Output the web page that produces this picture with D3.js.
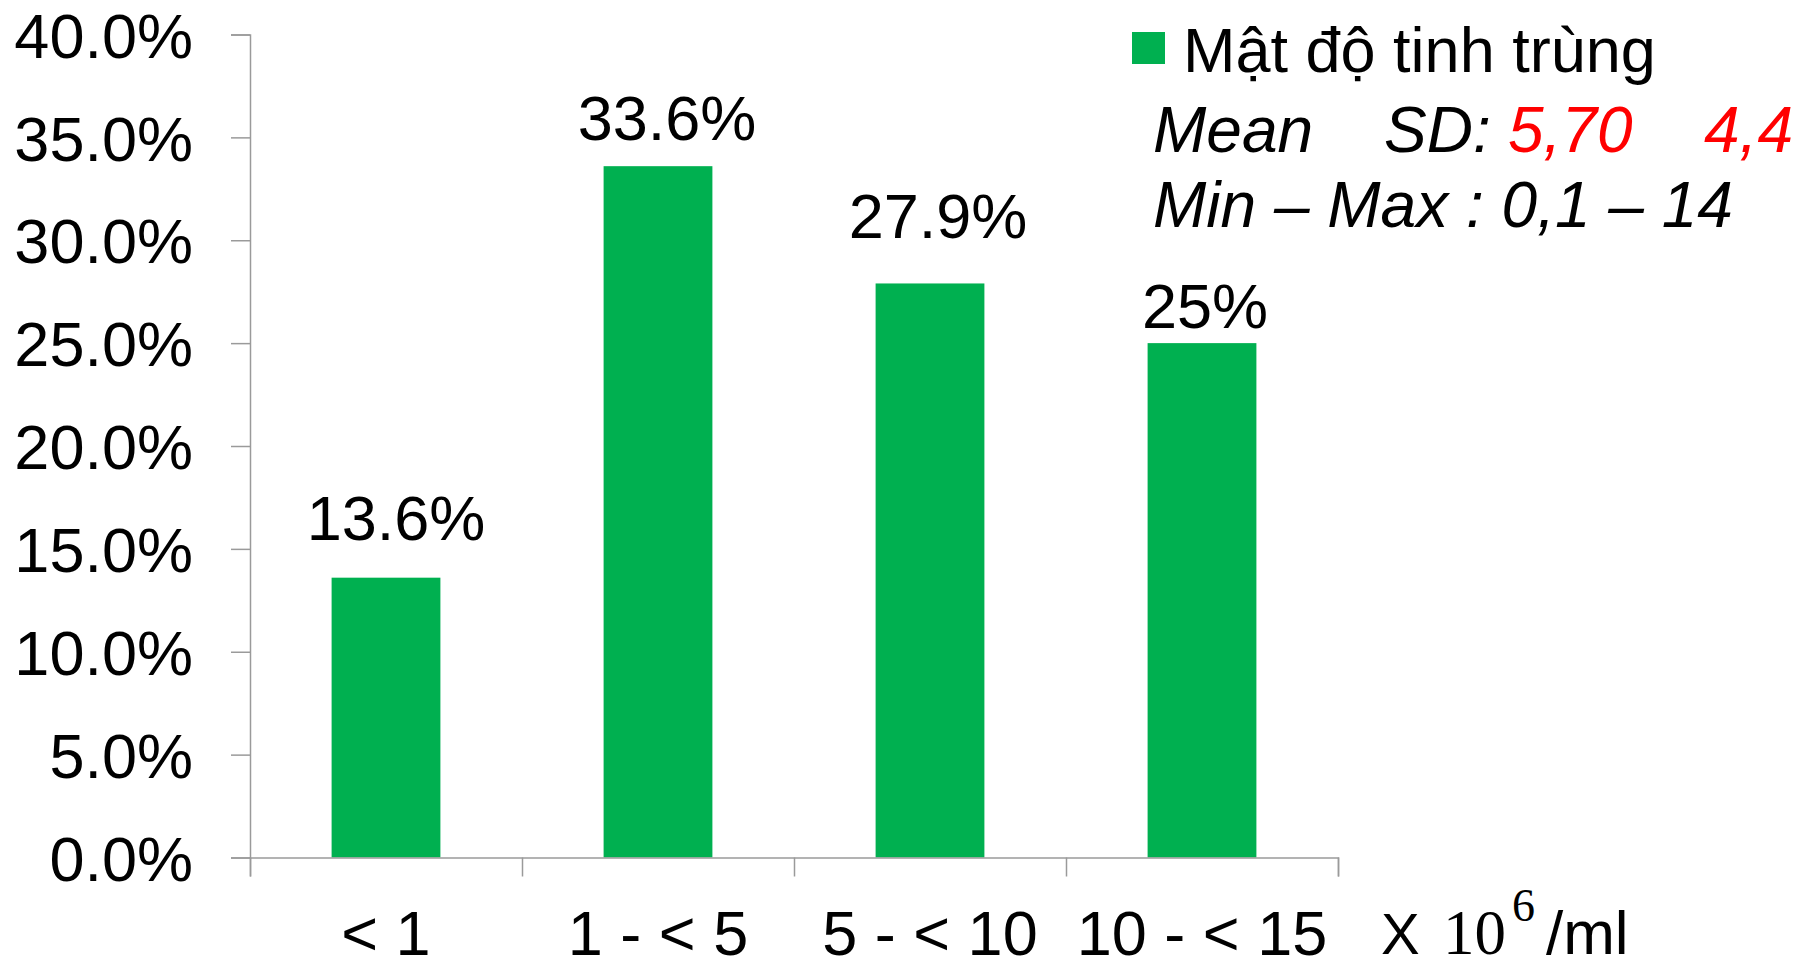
<!DOCTYPE html>
<html>
<head>
<meta charset="utf-8">
<script src="https://cdn.jsdelivr.net/npm/d3@7"></script>
<style>
  html, body { margin: 0; padding: 0; background: #fff; }
  svg { display: block; }
  text { font-family: "Liberation Sans", Arial, sans-serif; fill: #000; }
  text.serif { font-family: "Liberation Serif", "Times New Roman", serif; }
</style>
</head>
<body>
<svg id="chart" width="1806" height="968"></svg>
<script>
// Sperm concentration groups (x 10^6 / ml) and share of patients in each
const categories = ["< 1", "1 - < 5", "5 - < 10", "10 - < 15"];
const shares = [13.6, 33.6, 27.9, 25];
const shareLabels = ["13.6%", "33.6%", "27.9%", "25%"];
const yTicks = [0, 5, 10, 15, 20, 25, 30, 35, 40];
const seriesName = "Mật độ tinh trùng";

// hand placement of the value labels above each bar (px)
const labelLift = [38, 26, 45, 15];
const labelShift = [10, 9, 8, 3];

const svg = d3.select("#chart");
const axisColor = "#9a9a9a";
const green = "#00B050";

const plotLeft = 250, plotRight = 1338, plotTop = 34.5, plotBottom = 857.5;

const y = d3.scaleLinear().domain([0, 40]).range([plotBottom, plotTop]);
const x = d3.scaleBand().domain(categories).range([plotLeft, plotRight])
  .paddingInner(0.6).paddingOuter(0.3);
const edge = d3.scaleLinear().domain([0, categories.length]).range([plotLeft, plotRight]);

// bars
svg.append("g").selectAll("rect").data(shares).join("rect")
  .attr("x", (d, i) => x(categories[i]))
  .attr("y", d => y(d))
  .attr("width", x.bandwidth())
  .attr("height", d => y(0) - y(d))
  .attr("fill", green);

// y axis
const yAxis = svg.append("g").attr("transform", `translate(${plotLeft},0)`)
  .call(d3.axisLeft(y).tickValues(yTicks).tickFormat(d => d.toFixed(1) + "%")
    .tickSize(19).tickSizeOuter(19).tickPadding(38));
yAxis.selectAll("path, line").attr("stroke", axisColor).attr("stroke-width", 1.5);
yAxis.selectAll("text").attr("font-size", 63).attr("dy", "0.36em").style("fill", "#000");

// x axis: boundary ticks between groups
const xEdge = svg.append("g").attr("transform", `translate(0,${plotBottom})`)
  .call(d3.axisBottom(edge).ticks(categories.length).tickFormat("")
    .tickSize(19).tickSizeOuter(19));
xEdge.selectAll("path, line").attr("stroke", axisColor).attr("stroke-width", 1.5);

// x axis: group labels centred under bars
const xLab = svg.append("g").attr("transform", `translate(0,${plotBottom})`)
  .call(d3.axisBottom(x).tickSize(0).tickPadding(53));
xLab.select(".domain").remove();
xLab.selectAll("text").attr("font-size", 63).style("fill", "#000");

// unit label: X 10^6 /ml
const unitBase = 954;
const unit = svg.append("g");
unit.append("text").attr("x", 1381).attr("y", unitBase).attr("font-size", 58).text("X");
unit.append("text").attr("class", "serif").attr("x", 1443).attr("y", unitBase)
  .attr("font-size", 63).text("10");
unit.append("text").attr("class", "serif").attr("x", 1512).attr("y", unitBase - 33)
  .attr("font-size", 46).text("6");
unit.append("text").attr("x", 1546).attr("y", unitBase).attr("font-size", 62).text("/ml");

// value labels
svg.append("g").selectAll("text").data(shares).join("text")
  .attr("x", (d, i) => x(categories[i]) + x.bandwidth() / 2 + labelShift[i])
  .attr("y", (d, i) => y(d) - labelLift[i])
  .attr("text-anchor", "middle")
  .attr("font-size", 63)
  .text((d, i) => shareLabels[i]);

// legend
svg.append("rect").attr("x", 1132).attr("y", 32).attr("width", 33).attr("height", 32)
  .attr("fill", green);
svg.append("text").attr("x", 1183).attr("y", 71.7).attr("font-size", 63)
  .text(seriesName);

// summary statistics
const stats = svg.append("g").attr("font-style", "italic").attr("font-size", 64);
stats.append("text").attr("x", 1153).attr("y", 151.7).text("Mean");
stats.append("text").attr("x", 1384).attr("y", 151.7).text("SD:");
stats.append("text").attr("x", 1508).attr("y", 151.7).style("fill", "#ff0000").text("5,70");
stats.append("text").attr("x", 1704).attr("y", 151.7).style("fill", "#ff0000").text("4,4");
stats.append("text").attr("x", 1153).attr("y", 226.7).text("Min – Max : 0,1 – 14");
</script>
</body>
</html>
